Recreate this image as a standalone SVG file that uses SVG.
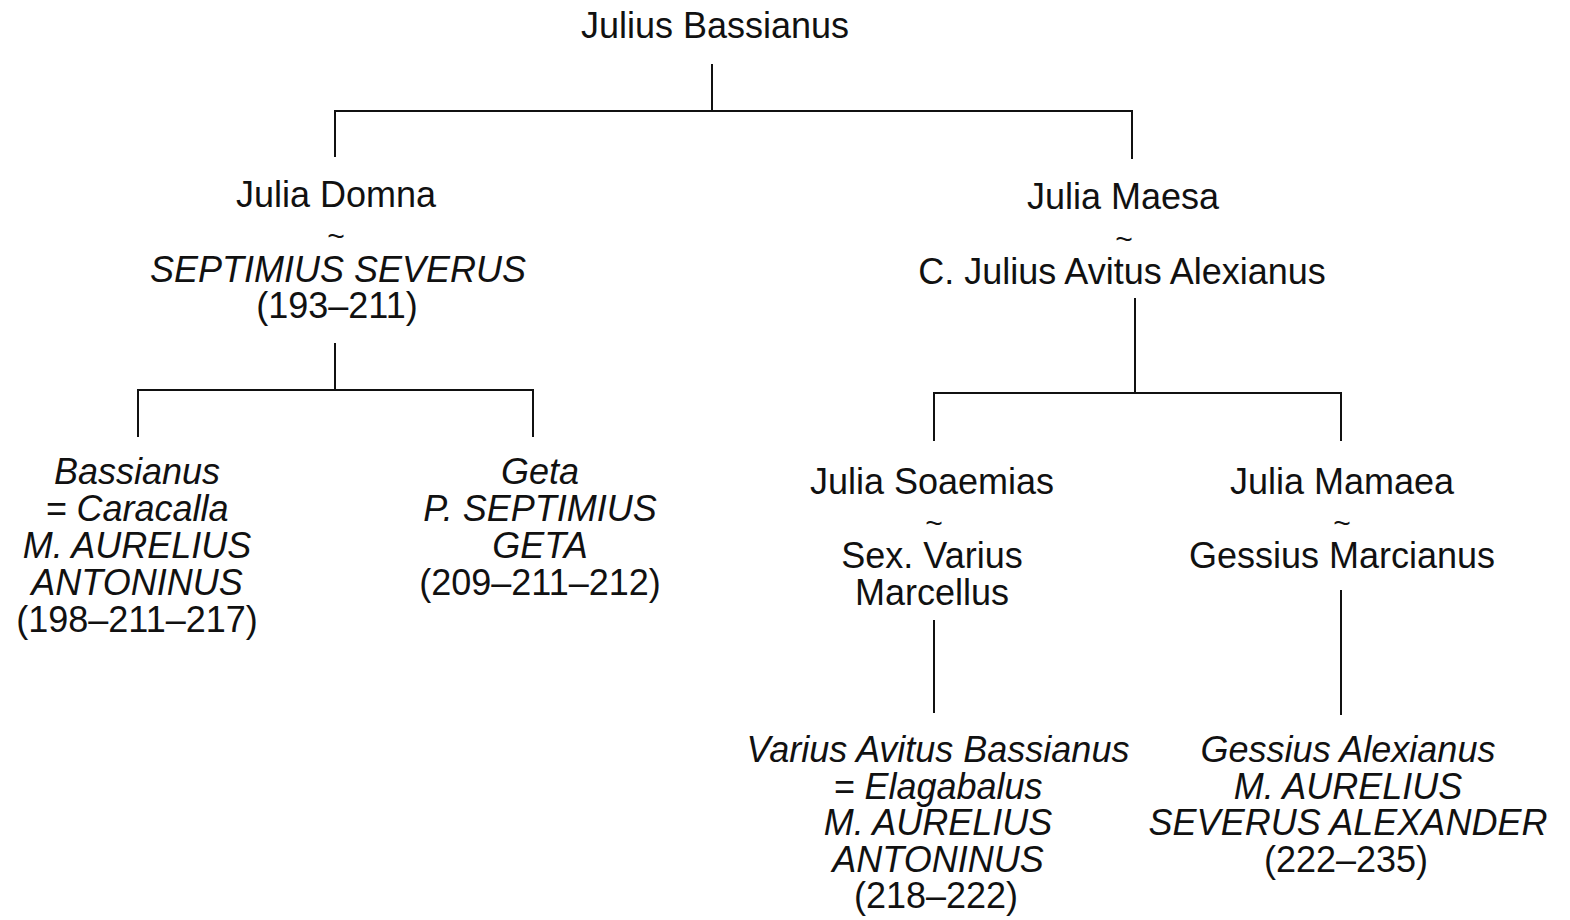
<svg xmlns="http://www.w3.org/2000/svg" width="1570" height="920" viewBox="0 0 1570 920">
<style>
text{font-family:"Liberation Sans",Arial,sans-serif;font-size:36px;fill:#111;text-anchor:middle}
.i{font-style:italic}
.t{font-size:30px}
.c line{stroke:#111;stroke-width:2;fill:none}
</style>
<rect width="1570" height="920" fill="#fff"/>
<g class="c" id="connectors">
<line x1="712" y1="64" x2="712" y2="111"/>
<line x1="334" y1="111" x2="1133" y2="111"/>
<line x1="335" y1="110" x2="335" y2="157"/>
<line x1="1132" y1="110" x2="1132" y2="159"/>
<line x1="335" y1="343" x2="335" y2="390"/>
<line x1="137" y1="390" x2="534" y2="390"/>
<line x1="138" y1="389" x2="138" y2="437"/>
<line x1="533" y1="389" x2="533" y2="437"/>
<line x1="1135" y1="298" x2="1135" y2="393"/>
<line x1="933" y1="393" x2="1342" y2="393"/>
<line x1="934" y1="392" x2="934" y2="441"/>
<line x1="1341" y1="392" x2="1341" y2="441"/>
<line x1="934" y1="620" x2="934" y2="713"/>
<line x1="1341" y1="590" x2="1341" y2="715"/>
</g>
<g id="julius-bassianus"><text x="715" y="38">Julius Bassianus</text></g>
<g id="julia-domna">
<text x="336" y="207">Julia Domna</text>
<text class="t" x="336" y="246">~</text>
<text class="i" x="338" y="282">SEPTIMIUS SEVERUS</text>
<text x="337" y="318">(193–211)</text>
</g>
<g id="julia-maesa">
<text x="1123" y="209">Julia Maesa</text>
<text class="t" x="1124" y="249">~</text>
<text x="1122" y="284">C. Julius Avitus Alexianus</text>
</g>
<g id="caracalla">
<text class="i" x="137" y="484">Bassianus</text>
<text class="i" x="137" y="521">= Caracalla</text>
<text class="i" x="137" y="558">M. AURELIUS</text>
<text class="i" x="137" y="595">ANTONINUS</text>
<text x="137" y="632">(198–211–217)</text>
</g>
<g id="geta">
<text class="i" x="540" y="484">Geta</text>
<text class="i" x="540" y="521">P. SEPTIMIUS</text>
<text class="i" x="540" y="558">GETA</text>
<text x="540" y="595">(209–211–212)</text>
</g>
<g id="julia-soaemias">
<text x="932" y="494">Julia Soaemias</text>
<text class="t" x="934" y="533">~</text>
<text x="932" y="568">Sex. Varius</text>
<text x="932" y="605">Marcellus</text>
</g>
<g id="julia-mamaea">
<text x="1342" y="494">Julia Mamaea</text>
<text class="t" x="1342" y="533">~</text>
<text x="1342" y="568">Gessius Marcianus</text>
</g>
<g id="elagabalus">
<text class="i" x="938" y="762">Varius Avitus Bassianus</text>
<text class="i" x="938" y="799">= Elagabalus</text>
<text class="i" x="938" y="835">M. AURELIUS</text>
<text class="i" x="938" y="872">ANTONINUS</text>
<text x="936" y="908">(218–222)</text>
</g>
<g id="severus-alexander">
<text class="i" x="1348" y="762">Gessius Alexianus</text>
<text class="i" x="1348" y="799">M. AURELIUS</text>
<text class="i" x="1348" y="835">SEVERUS ALEXANDER</text>
<text x="1346" y="872">(222–235)</text>
</g>
</svg>
